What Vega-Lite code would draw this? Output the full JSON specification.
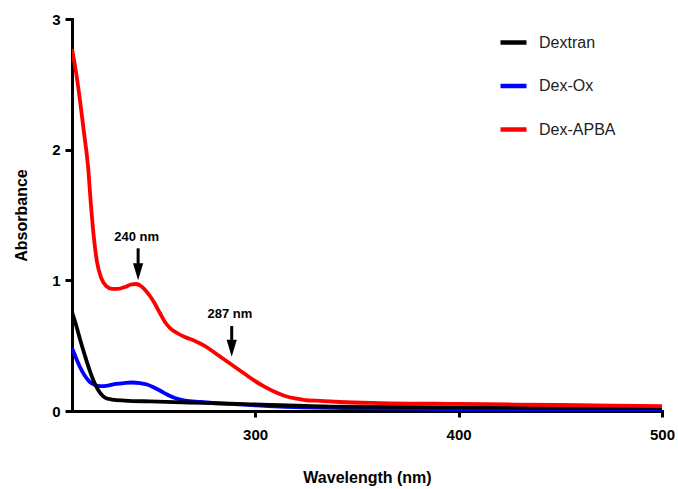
{
  "$schema": "https://vega.github.io/schema/vega-lite/v6.json",
  "width": 590,
  "height": 392,
  "autosize": {"type": "none"},
  "padding": {"left": 72, "top": 19, "right": 16, "bottom": 78},
  "background": "white",
  "config": {"view": {"stroke": null}, "font": "Liberation Sans"},
  "datasets": {
    "spectra": [
      {"w": 210, "a": 0.482, "s": "Dex-Ox"},
      {"w": 212, "a": 0.406, "s": "Dex-Ox"},
      {"w": 213.9, "a": 0.337, "s": "Dex-Ox"},
      {"w": 216.4, "a": 0.268, "s": "Dex-Ox"},
      {"w": 218.8, "a": 0.222, "s": "Dex-Ox"},
      {"w": 221.3, "a": 0.199, "s": "Dex-Ox"},
      {"w": 223.8, "a": 0.191, "s": "Dex-Ox"},
      {"w": 227.7, "a": 0.195, "s": "Dex-Ox"},
      {"w": 231.6, "a": 0.207, "s": "Dex-Ox"},
      {"w": 235.6, "a": 0.214, "s": "Dex-Ox"},
      {"w": 239.5, "a": 0.218, "s": "Dex-Ox"},
      {"w": 243.4, "a": 0.214, "s": "Dex-Ox"},
      {"w": 246.9, "a": 0.203, "s": "Dex-Ox"},
      {"w": 249.8, "a": 0.184, "s": "Dex-Ox"},
      {"w": 253.2, "a": 0.157, "s": "Dex-Ox"},
      {"w": 256.7, "a": 0.126, "s": "Dex-Ox"},
      {"w": 260.6, "a": 0.099, "s": "Dex-Ox"},
      {"w": 265.5, "a": 0.080, "s": "Dex-Ox"},
      {"w": 272.9, "a": 0.069, "s": "Dex-Ox"},
      {"w": 287.6, "a": 0.054, "s": "Dex-Ox"},
      {"w": 312.2, "a": 0.034, "s": "Dex-Ox"},
      {"w": 346.6, "a": 0.023, "s": "Dex-Ox"},
      {"w": 395.7, "a": 0.015, "s": "Dex-Ox"},
      {"w": 500, "a": 0.011, "s": "Dex-Ox"},
      {"w": 210, "a": 0.758, "s": "Dextran"},
      {"w": 212, "a": 0.658, "s": "Dextran"},
      {"w": 213.9, "a": 0.551, "s": "Dextran"},
      {"w": 216.4, "a": 0.421, "s": "Dextran"},
      {"w": 218.8, "a": 0.306, "s": "Dextran"},
      {"w": 221.3, "a": 0.207, "s": "Dextran"},
      {"w": 223.8, "a": 0.138, "s": "Dextran"},
      {"w": 226.2, "a": 0.103, "s": "Dextran"},
      {"w": 229.7, "a": 0.088, "s": "Dextran"},
      {"w": 236.0, "a": 0.080, "s": "Dextran"},
      {"w": 248.3, "a": 0.073, "s": "Dextran"},
      {"w": 268.0, "a": 0.065, "s": "Dextran"},
      {"w": 287.6, "a": 0.057, "s": "Dextran"},
      {"w": 307.3, "a": 0.046, "s": "Dextran"},
      {"w": 336.8, "a": 0.034, "s": "Dextran"},
      {"w": 395.7, "a": 0.027, "s": "Dextran"},
      {"w": 500, "a": 0.023, "s": "Dextran"},
      {"w": 210, "a": 2.77, "s": "Dex-APBA"},
      {"w": 212, "a": 2.59, "s": "Dex-APBA"},
      {"w": 213.9, "a": 2.38, "s": "Dex-APBA"},
      {"w": 215.9, "a": 2.13, "s": "Dex-APBA"},
      {"w": 217.9, "a": 1.87, "s": "Dex-APBA"},
      {"w": 219.3, "a": 1.58, "s": "Dex-APBA"},
      {"w": 220.8, "a": 1.32, "s": "Dex-APBA"},
      {"w": 222.3, "a": 1.14, "s": "Dex-APBA"},
      {"w": 224.3, "a": 1.02, "s": "Dex-APBA"},
      {"w": 226.7, "a": 0.957, "s": "Dex-APBA"},
      {"w": 229.7, "a": 0.934, "s": "Dex-APBA"},
      {"w": 232.6, "a": 0.934, "s": "Dex-APBA"},
      {"w": 236.0, "a": 0.949, "s": "Dex-APBA"},
      {"w": 239.0, "a": 0.968, "s": "Dex-APBA"},
      {"w": 241.4, "a": 0.972, "s": "Dex-APBA"},
      {"w": 243.9, "a": 0.957, "s": "Dex-APBA"},
      {"w": 246.4, "a": 0.918, "s": "Dex-APBA"},
      {"w": 248.3, "a": 0.880, "s": "Dex-APBA"},
      {"w": 250.8, "a": 0.819, "s": "Dex-APBA"},
      {"w": 253.2, "a": 0.750, "s": "Dex-APBA"},
      {"w": 255.7, "a": 0.681, "s": "Dex-APBA"},
      {"w": 258.2, "a": 0.635, "s": "Dex-APBA"},
      {"w": 261.6, "a": 0.597, "s": "Dex-APBA"},
      {"w": 265.5, "a": 0.566, "s": "Dex-APBA"},
      {"w": 270.4, "a": 0.536, "s": "Dex-APBA"},
      {"w": 275.4, "a": 0.497, "s": "Dex-APBA"},
      {"w": 280.3, "a": 0.444, "s": "Dex-APBA"},
      {"w": 285.2, "a": 0.390, "s": "Dex-APBA"},
      {"w": 290.1, "a": 0.337, "s": "Dex-APBA"},
      {"w": 295.0, "a": 0.283, "s": "Dex-APBA"},
      {"w": 299.9, "a": 0.230, "s": "Dex-APBA"},
      {"w": 304.8, "a": 0.184, "s": "Dex-APBA"},
      {"w": 309.8, "a": 0.145, "s": "Dex-APBA"},
      {"w": 314.7, "a": 0.115, "s": "Dex-APBA"},
      {"w": 319.6, "a": 0.096, "s": "Dex-APBA"},
      {"w": 324.5, "a": 0.084, "s": "Dex-APBA"},
      {"w": 331.9, "a": 0.077, "s": "Dex-APBA"},
      {"w": 341.7, "a": 0.069, "s": "Dex-APBA"},
      {"w": 361.4, "a": 0.061, "s": "Dex-APBA"},
      {"w": 400.7, "a": 0.054, "s": "Dex-APBA"},
      {"w": 449.8, "a": 0.046, "s": "Dex-APBA"},
      {"w": 500, "a": 0.038, "s": "Dex-APBA"}
    ],
    "arrows": [
      {"label": "240 nm", "x": 242.5, "tx": 241.8, "ty": 1.332, "y1": 1.245, "y2": 1.115, "hy": 1.066},
      {"label": "287 nm", "x": 288.5, "tx": 287.6, "ty": 0.742, "y1": 0.650, "y2": 0.526, "hy": 0.480}
    ]
  },
  "layer": [
    {
      "data": {"name": "spectra"},
      "mark": {"type": "line", "strokeWidth": 3.8, "interpolate": "monotone", "clip": true},
      "encoding": {
        "x": {
          "field": "w", "type": "quantitative",
          "scale": {"domain": [210, 500], "nice": false, "zero": false},
          "axis": {
            "values": [300, 400, 500], "format": "d", "grid": false, "labelFlush": false,
            "domainColor": "black", "domainWidth": 3, "domainCap": "square",
            "tickColor": "black", "tickWidth": 3, "tickSize": 6,
            "labelFont": "Liberation Sans", "labelFontWeight": "bold", "labelFontSize": 15, "labelColor": "black", "labelPadding": 10,
            "title": "Wavelength (nm)", "titleFont": "Liberation Sans", "titleFontWeight": "bold", "titleFontSize": 16, "titleColor": "black", "titlePadding": 27
          }
        },
        "y": {
          "field": "a", "type": "quantitative",
          "scale": {"domain": [0, 3], "nice": false},
          "axis": {
            "values": [0, 1, 2, 3], "format": "d", "grid": false, "labelFlush": false,
            "domainColor": "black", "domainWidth": 3, "domainCap": "square",
            "tickColor": "black", "tickWidth": 3, "tickSize": 7,
            "labelFont": "Liberation Sans", "labelFontWeight": "bold", "labelFontSize": 15, "labelColor": "black", "labelPadding": 5,
            "title": "Absorbance", "titleFont": "Liberation Sans", "titleFontWeight": "bold", "titleFontSize": 16, "titleColor": "black", "titlePadding": 22
          }
        },
        "color": {
          "field": "s", "type": "nominal",
          "scale": {"domain": ["Dextran", "Dex-Ox", "Dex-APBA"], "range": ["#000000", "#0000ff", "#ff0000"]},
          "legend": {
            "title": null, "orient": "none", "legendX": 426, "legendY": 8,
            "padding": 0, "symbolType": "stroke", "symbolSize": 676, "symbolStrokeWidth": 4.5,
            "labelFont": "Liberation Sans", "labelFontSize": 16, "labelColor": "#222222", "labelOffset": 10,
            "rowPadding": 18.5
          }
        }
      }
    },
    {
      "data": {"name": "arrows"},
      "mark": {"type": "rule", "strokeWidth": 3, "color": "black"},
      "encoding": {
        "x": {"field": "x", "type": "quantitative"},
        "y": {"field": "y1", "type": "quantitative"},
        "y2": {"field": "y2"}
      }
    },
    {
      "data": {"name": "arrows"},
      "mark": {"type": "point", "shape": "M-0.6,-1L0.6,-1L0,1Z", "size": 289, "filled": true, "color": "black", "opacity": 1},
      "encoding": {
        "x": {"field": "x", "type": "quantitative"},
        "y": {"field": "hy", "type": "quantitative"}
      }
    },
    {
      "data": {"name": "arrows"},
      "mark": {"type": "text", "font": "Liberation Sans", "fontWeight": "bold", "fontSize": 13, "color": "black", "align": "center", "baseline": "middle"},
      "encoding": {
        "x": {"field": "tx", "type": "quantitative"},
        "y": {"field": "ty", "type": "quantitative"},
        "text": {"field": "label"}
      }
    }
  ]
}
